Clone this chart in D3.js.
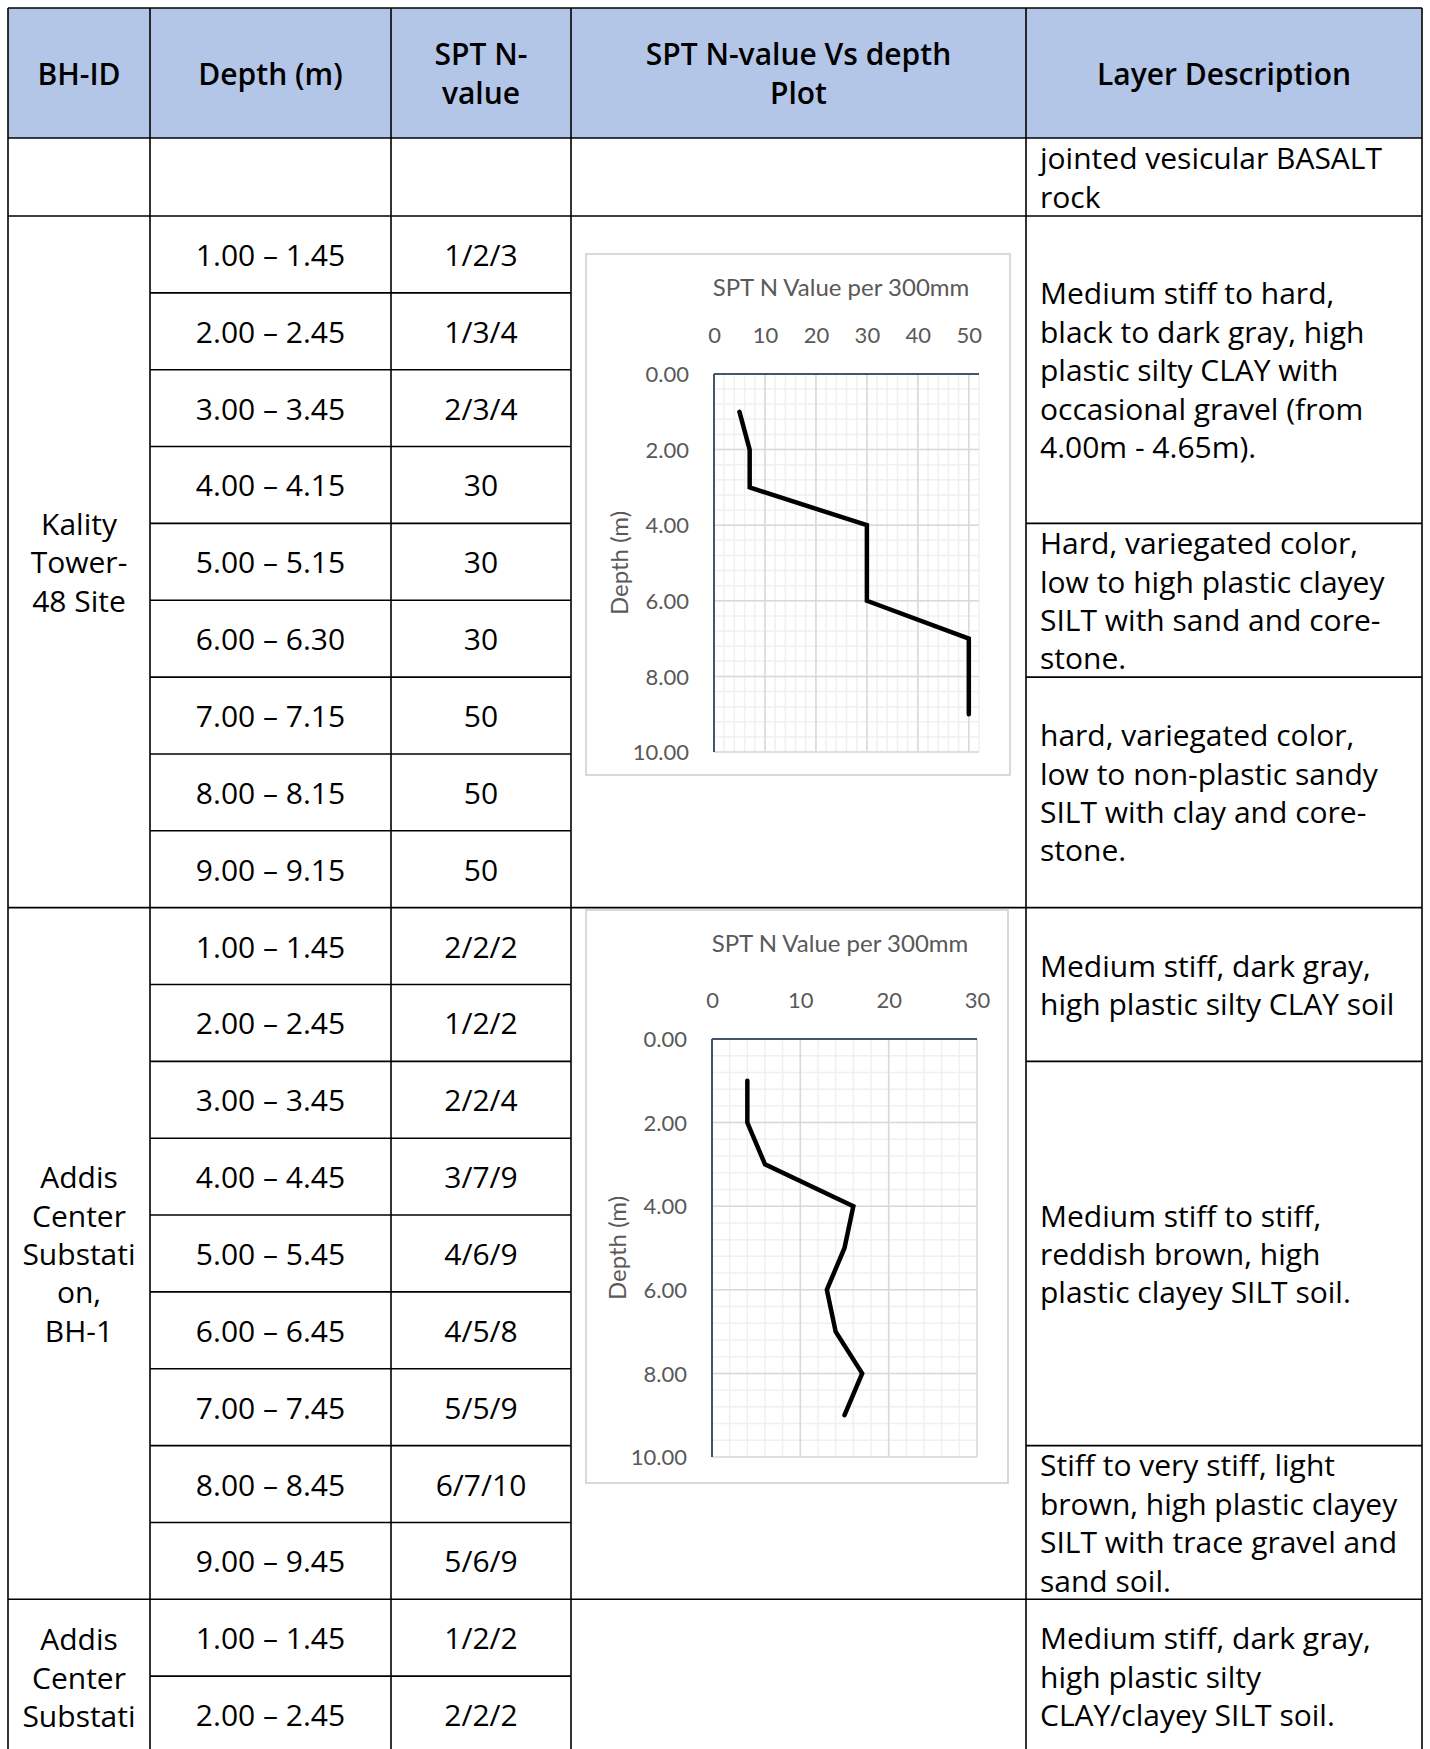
<!DOCTYPE html>
<html>
<head>
<meta charset="utf-8">
<script src="https://cdn.jsdelivr.net/npm/d3@7"></script>
<style>
  html, body { margin: 0; padding: 0; background: #ffffff; }
  svg { display: block; }
</style>
</head>
<body>
<svg id="sheet" width="1430" height="1749"></svg>
<script>
  // ---- table content ----
  const headerLabels = [
    ["BH-ID"],
    ["Depth (m)"],
    ["SPT N-", "value"],
    ["SPT N-value Vs depth", "Plot"],
    ["Layer Description"]
  ];

  const topDescription = ["jointed vesicular BASALT", "rock"];

  const kalityLabel = ["Kality", "Tower-", "48 Site"];
  const kalityDepths = ["1.00 – 1.45", "2.00 – 2.45", "3.00 – 3.45", "4.00 – 4.15", "5.00 – 5.15",
    "6.00 – 6.30", "7.00 – 7.15", "8.00 – 8.15", "9.00 – 9.15"];
  const kalityBlows = ["1/2/3", "1/3/4", "2/3/4", "30", "30", "30", "50", "50", "50"];
  const kalityLayerRows = [4, 2, 3];
  const kalityLayers = [
    ["Medium stiff to hard,", "black to dark gray, high", "plastic silty CLAY with", "occasional gravel (from", "4.00m - 4.65m)."],
    ["Hard, variegated color,", "low to high plastic clayey", "SILT with sand and core-", "stone."],
    ["hard, variegated color,", "low to non-plastic sandy", "SILT with clay and core-", "stone."]
  ];

  const addisLabel = ["Addis", "Center", "Substati", "on,", "BH-1"];
  const addisDepths = ["1.00 – 1.45", "2.00 – 2.45", "3.00 – 3.45", "4.00 – 4.45", "5.00 – 5.45",
    "6.00 – 6.45", "7.00 – 7.45", "8.00 – 8.45", "9.00 – 9.45"];
  const addisBlows = ["2/2/2", "1/2/2", "2/2/4", "3/7/9", "4/6/9", "4/5/8", "5/5/9", "6/7/10", "5/6/9"];
  const addisLayerRows = [2, 5, 2];
  const addisLayers = [
    ["Medium stiff, dark gray,", "high plastic silty CLAY soil"],
    ["Medium stiff to stiff,", "reddish brown, high", "plastic clayey SILT soil."],
    ["Stiff to very stiff, light", "brown, high plastic clayey", "SILT with trace gravel and", "sand soil."]
  ];

  // last borehole: only its first two rows fit on the page
  const addis2Label = ["Addis", "Center", "Substati"];
  const addis2Depths = ["1.00 – 1.45", "2.00 – 2.45"];
  const addis2Blows = ["1/2/2", "2/2/2"];
  const addis2LayerRows = [2];
  const addis2Layers = [
    ["Medium stiff, dark gray,", "high plastic silty", "CLAY/clayey SILT soil."]
  ];

  // ---- plot data (N = sum of last two blow counts) ----
  const kalityDepth = [1, 2, 3, 4, 5, 6, 7, 8, 9];
  const kalityN = [5, 7, 7, 30, 30, 30, 50, 50, 50];
  const kalityTicksN = [0, 10, 20, 30, 40, 50];

  const addisDepth = [1, 2, 3, 4, 5, 6, 7, 8, 9];
  const addisN = [4, 4, 6, 16, 15, 13, 14, 17, 15];
  const addisTicksN = [0, 10, 20, 30];

  const depthTicks = [0, 2, 4, 6, 8, 10];

  // ---- layout ----
  const svg = d3.select("#sheet");
  const colX = [8, 150, 391, 571, 1026, 1422];
  const headerTop = 8, headerBottom = 138;
  const firstRowBottom = 216;
  const rowH = 76.85;
  const lineH = 38.4;
  const tableFont = "'Open Sans', Lato, sans-serif";
  const chartFont = "Lato, 'Open Sans', sans-serif";
  const textSize = 30;

  const gBg = svg.append("g");
  const gText = svg.append("g");
  const gLines = svg.append("g");

  // multi-line text, first line at firstY (or centred on cy)
  const multiLine = (g, lines, x, cy, anchor, weight, firstY) => {
    const t = g.append("text")
      .attr("font-family", tableFont)
      .attr("font-size", textSize)
      .attr("font-weight", weight || 400)
      .attr("fill", "#000")
      .attr("text-anchor", anchor);
    const y0 = firstY != null ? firstY : cy - (lines.length - 1) / 2 * lineH;
    lines.forEach((s, i) => {
      t.append("tspan")
        .attr("x", x)
        .attr("y", y0 + i * lineH)
        .attr("dominant-baseline", "central")
        .text(s);
    });
  };

  const hLine = (x1, x2, y) => gLines.append("line")
    .attr("x1", x1).attr("x2", x2).attr("y1", y).attr("y2", y)
    .attr("stroke", "#000").attr("stroke-width", 1.6);
  const vLine = (x, y1, y2) => gLines.append("line")
    .attr("x1", x).attr("x2", x).attr("y1", y1).attr("y2", y2)
    .attr("stroke", "#000").attr("stroke-width", 1.6);

  // header
  gBg.append("rect")
    .attr("x", colX[0]).attr("y", headerTop)
    .attr("width", colX[5] - colX[0]).attr("height", headerBottom - headerTop)
    .attr("fill", "#b4c6e7");
  headerLabels.forEach((lines, i) => {
    multiLine(gText, lines, (colX[i] + colX[i + 1]) / 2, (headerTop + headerBottom) / 2, "middle", 600);
  });
  hLine(colX[0], colX[5], headerTop);
  hLine(colX[0], colX[5], headerBottom);

  // first (continuation) row
  multiLine(gText, topDescription, colX[4] + 14, (headerBottom + firstRowBottom) / 2, "start");
  hLine(colX[0], colX[5], firstRowBottom);

  // a borehole block: id cell, depth and blow rows, layer cells
  const drawBlock = (top, label, depths, blows, layerRows, layers, labelFirstY) => {
    const n = depths.length;
    const bottom = top + n * rowH;
    multiLine(gText, label, (colX[0] + colX[1]) / 2, (top + bottom) / 2, "middle", 400, labelFirstY);
    depths.forEach((d, i) => {
      const cy = top + (i + 0.5) * rowH;
      multiLine(gText, [d], (colX[1] + colX[2]) / 2, cy, "middle");
      multiLine(gText, [blows[i]], (colX[2] + colX[3]) / 2, cy, "middle");
      if (i > 0) hLine(colX[1], colX[3], top + i * rowH);
    });
    let r = 0;
    layerRows.forEach((k, i) => {
      const y0 = top + r * rowH, y1 = top + (r + k) * rowH;
      multiLine(gText, layers[i], colX[4] + 14, (y0 + y1) / 2, "start");
      if (r > 0) hLine(colX[4], colX[5], y0);
      r += k;
    });
    hLine(colX[0], colX[5], bottom);
    return bottom;
  };

  const kalityTop = firstRowBottom;
  const addisTop = drawBlock(kalityTop, kalityLabel, kalityDepths, kalityBlows, kalityLayerRows, kalityLayers);
  const addis2Top = drawBlock(addisTop, addisLabel, addisDepths, addisBlows, addisLayerRows, addisLayers);
  drawBlock(addis2Top, addis2Label, addis2Depths, addis2Blows, addis2LayerRows, addis2Layers, addis2Top + rowH / 2 + 1);

  colX.forEach(x => vLine(x, headerTop, 1760));

  // ---- SPT plot ----
  const sptPlot = (selection, props) => {
    const { box, plot, depth, nValues, nMax, nTicks, titleY } = props;
    const g = selection.append("g");

    g.append("rect")
      .attr("x", box.x).attr("y", box.y)
      .attr("width", box.w).attr("height", box.h)
      .attr("fill", "#fff")
      .attr("stroke", "#d9d9d9")
      .attr("stroke-width", 2);

    const x = d3.scaleLinear().domain([0, nMax]).range([plot.x, plot.x + plot.w]);
    const y = d3.scaleLinear().domain([0, 10]).range([plot.y, plot.y + plot.h]);

    const grid = g.append("g");
    const minorX = d3.range(0, nMax + 0.001, 2);
    const minorY = d3.range(0, 10.001, 0.4);
    grid.selectAll(".mx").data(minorX).enter().append("line")
      .attr("x1", d => x(d)).attr("x2", d => x(d))
      .attr("y1", plot.y).attr("y2", plot.y + plot.h)
      .attr("stroke", "#f0f0f0").attr("stroke-width", 1.5);
    grid.selectAll(".my").data(minorY).enter().append("line")
      .attr("x1", plot.x).attr("x2", plot.x + plot.w)
      .attr("y1", d => y(d)).attr("y2", d => y(d))
      .attr("stroke", "#f0f0f0").attr("stroke-width", 1.5);
    grid.selectAll(".jx").data(nTicks).enter().append("line")
      .attr("x1", d => x(d)).attr("x2", d => x(d))
      .attr("y1", plot.y).attr("y2", plot.y + plot.h)
      .attr("stroke", "#d9d9d9").attr("stroke-width", 1.5);
    grid.selectAll(".jy").data(depthTicks).enter().append("line")
      .attr("x1", plot.x).attr("x2", plot.x + plot.w)
      .attr("y1", d => y(d)).attr("y2", d => y(d))
      .attr("stroke", "#d9d9d9").attr("stroke-width", 1.5);

    // axes: labels only, the axis lines drawn separately
    const xAxis = g.append("g")
      .attr("transform", `translate(0, ${plot.y - 30})`)
      .call(d3.axisTop(x).tickValues(nTicks).tickSize(0).tickPadding(0));
    const yAxis = g.append("g")
      .attr("transform", `translate(${plot.x - 25}, 0)`)
      .call(d3.axisLeft(y).tickValues(depthTicks).tickSize(0).tickPadding(0).tickFormat(d3.format(".2f")));
    [xAxis, yAxis].forEach(a => {
      a.select(".domain").remove();
      a.selectAll("text")
        .attr("font-family", chartFont)
        .attr("font-size", 22)
        .attr("fill", "#595959");
    });
    xAxis.selectAll("text").attr("dy", "-0.05em");
    yAxis.selectAll("text").attr("dy", "0.35em");

    g.append("line")
      .attr("x1", plot.x).attr("x2", plot.x + plot.w)
      .attr("y1", plot.y).attr("y2", plot.y)
      .attr("stroke", "#44546a").attr("stroke-width", 2);
    g.append("line")
      .attr("x1", plot.x).attr("x2", plot.x)
      .attr("y1", plot.y).attr("y2", plot.y + plot.h)
      .attr("stroke", "#44546a").attr("stroke-width", 2);

    g.append("text")
      .attr("x", (box.x + box.w / 2) + 43)
      .attr("y", titleY)
      .attr("text-anchor", "middle")
      .attr("dominant-baseline", "central")
      .attr("font-family", chartFont)
      .attr("font-size", 24)
      .attr("fill", "#595959")
      .text("SPT N Value per 300mm");

    g.append("text")
      .attr("transform", `translate(${plot.x - 96}, ${plot.y + plot.h / 2}) rotate(-90)`)
      .attr("text-anchor", "middle")
      .attr("dominant-baseline", "central")
      .attr("font-family", chartFont)
      .attr("font-size", 24)
      .attr("fill", "#595959")
      .text("Depth (m)");

    const line = d3.line()
      .x(d => x(d[1]))
      .y(d => y(d[0]));
    g.append("path")
      .datum(depth.map((d, i) => [d, nValues[i]]))
      .attr("d", line)
      .attr("fill", "none")
      .attr("stroke", "#000")
      .attr("stroke-width", 4.5)
      .attr("stroke-linejoin", "miter")
      .attr("stroke-linecap", "round");
  };

  svg.append("g").call(sptPlot, {
    box: { x: 586, y: 254, w: 424, h: 521 },
    plot: { x: 714, y: 374, w: 265, h: 378 },
    depth: kalityDepth,
    nValues: kalityN,
    nMax: 52,
    nTicks: kalityTicksN,
    titleY: 286
  });

  svg.append("g").call(sptPlot, {
    box: { x: 586, y: 910, w: 422, h: 573 },
    plot: { x: 712, y: 1039, w: 265, h: 418 },
    depth: addisDepth,
    nValues: addisN,
    nMax: 30,
    nTicks: addisTicksN,
    titleY: 942
  });
</script>
</body>
</html>
